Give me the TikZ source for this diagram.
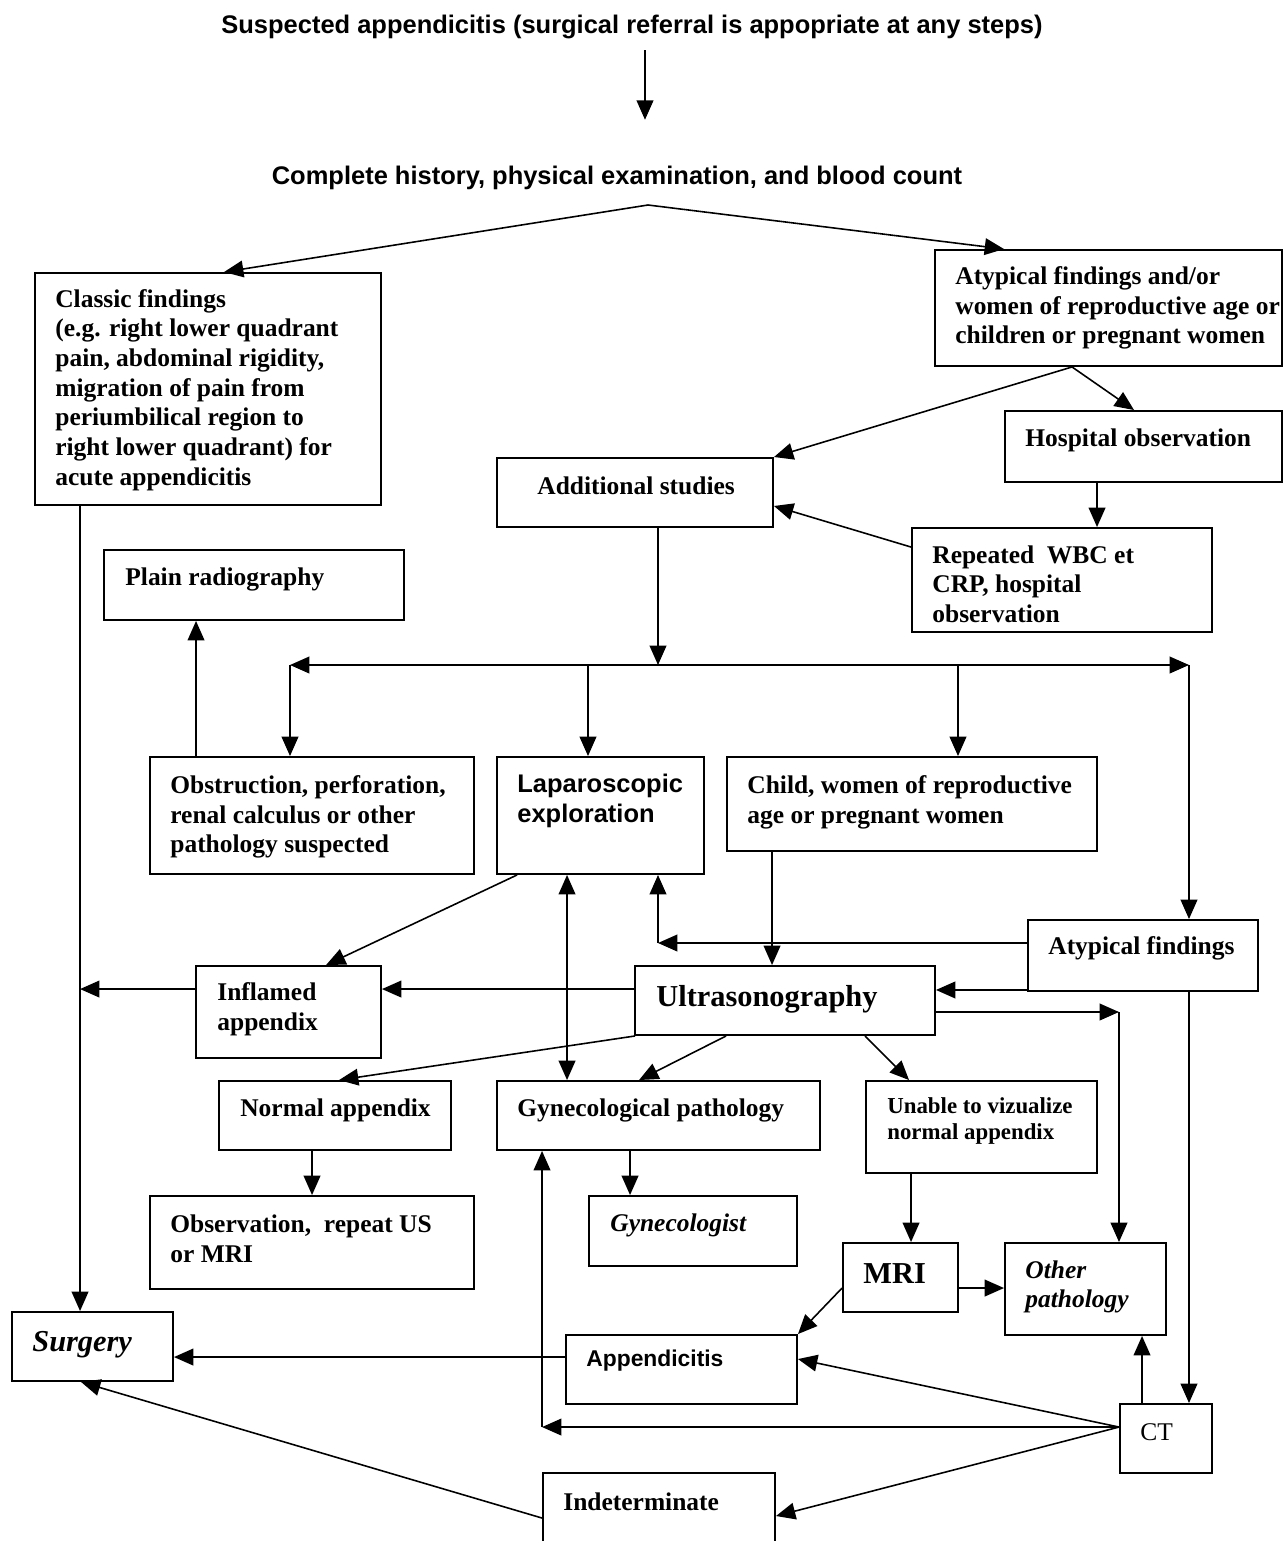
\documentclass[tikz,border=0pt]{standalone}
\usepackage{fontspec}
\setmainfont{Liberation Serif}
\setsansfont{Liberation Sans}
\usetikzlibrary{
    arrows.meta,
    positioning,
    fit,
    calc
}
\tikzset{
  box/.style   = {draw, line width=1.1pt, inner sep=0pt},
  lbl/.style   = {anchor=west, align=left, inner sep=0pt,
                  font=\fontsize{14.5}{16.9}\selectfont\bfseries},
  ilbl/.style  = {lbl, font=\fontsize{14.5}{16.9}\selectfont\bfseries\itshape},
  slbl/.style  = {lbl, font=\fontsize{14.5}{16.9}\selectfont\sffamily\bfseries},
  blbl/.style  = {lbl, font=\fontsize{17.3}{20}\selectfont\bfseries},
  arr/.style   = {-{Triangle[length=11pt,width=9.5pt]}, line width=0.9pt},
  darr/.style  = {{Triangle[length=11pt,width=9.5pt]}-{Triangle[length=11pt,width=9.5pt]},
                  line width=0.9pt}
}

\begin{document}
\begin{tikzpicture}[x=0.02cm, y=-0.02cm]
    \useasboundingbox (0,0) rectangle (1284,1541);
    \clip (0,0) rectangle (1284,1541);

    % header lines
    \node[slbl, anchor=center] (susp) at (632,27)
        {Suspected appendicitis (surgical referral is appopriate at any steps)};
    \node[slbl, anchor=center] (hist) at (617,178)
        {Complete history, physical examination, and blood count};
    \coordinate (split) at (648,205);

    % top boxes
    \node[box, fit={(35,273) (381,505)}] (classic) {};
    \node[lbl] (classic-t) at (55,390) {Classic findings\\(e.g. right lower quadrant\\pain, abdominal rigidity,\\migration of pain from\\periumbilical region to\\right lower quadrant) for\\acute appendicitis};
    \node[box, fit={(935,250) (1282,366)}] (atyp) {};
    \node[lbl] (atyp-t) at (955,308) {Atypical findings and/or\\women of reproductive age or\\children or pregnant women};
    \node[box, fit={(1005,411) (1282,482)}] (hosp) {};
    \node[lbl] (hosp-t) at (1025,440) {Hospital observation};
    \node[box, fit={(497,458) (773,527)}] (addst) {};
    \node[lbl] (addst-t) at (537,486) {Additional studies};
    \node[box, fit={(912,528) (1212,632)}] (repwbc) {};
    \node[lbl] (repwbc-t) at (932,584) {Repeated\ \ WBC et\\CRP, hospital\\observation};
    \node[box, fit={(104,550) (404,620)}] (plain) {};
    \node[lbl] (plain-t) at (125,579) {Plain radiography};

    % middle row
    \node[box, fit={(150,757) (474,874)}] (obstr) {};
    \node[lbl] (obstr-t) at (170,817) {Obstruction, perforation,\\renal calculus or other\\pathology suspected};
    \node[box, fit={(497,757) (704,874)}] (lapa) {};
    \node[slbl] (lapa-t) at (517,801) {Laparoscopic\\exploration};
    \node[box, fit={(727,757) (1097,851)}] (child) {};
    \node[lbl] (child-t) at (747,802) {Child, women of reproductive\\age or pregnant women};
    \node[box, fit={(1028,920) (1258,991)}] (atyp2) {};
    \node[lbl] (atyp2-t) at (1048,948) {Atypical findings};
    \node[box, fit={(635,966) (935,1035)}] (us) {};
    \node[blbl] (us-t) at (656,999) {Ultrasonography};
    \node[box, fit={(196,966) (381,1058)}] (infl) {};
    \node[lbl] (infl-t) at (217,1009) {Inflamed\\appendix};

    % lower boxes
    \node[box, fit={(219,1081) (451,1150)}] (normal) {};
    \node[lbl] (normal-t) at (240,1110) {Normal appendix};
    \node[box, fit={(497,1081) (820,1150)}] (gyn) {};
    \node[lbl] (gyn-t) at (517,1110) {Gynecological pathology};
    \node[box, fit={(866,1081) (1097,1173)}] (unable) {};
    \node[lbl, font=\fontsize{13}{15.3}\selectfont\bfseries] (unable-t) at (887,1121) {Unable to vizualize\\normal appendix};
    \node[box, fit={(150,1196) (474,1289)}] (obs) {};
    \node[lbl] (obs-t) at (170,1239) {Observation,\ \ repeat US\\or MRI};
    \node[box, fit={(589,1196) (797,1266)}] (gynist) {};
    \node[ilbl] (gynist-t) at (610,1225) {Gynecologist};
    \node[box, fit={(843,1243) (958,1312)}] (mri) {};
    \node[blbl] (mri-t) at (863,1274) {MRI};
    \node[box, fit={(1005,1243) (1166,1335)}] (other) {};
    \node[ilbl] (other-t) at (1025,1287) {Other\\pathology};
    \node[box, fit={(12,1312) (173,1381)}] (surgery) {};
    \node[blbl, font=\fontsize{17.3}{20}\selectfont\bfseries\itshape] (surgery-t) at (32,1345) {Surgery};
    \node[box, fit={(566,1335) (797,1404)}] (appx) {};
    \node[lbl, font=\fontsize{13}{15}\selectfont\sffamily\bfseries] (appx-t) at (586,1361) {Appendicitis};
    \node[box, fit={(1120,1404) (1212,1473)}] (ct) {};
    \node[lbl, font=\fontsize{14.5}{16.9}\selectfont] (ct-t) at (1140,1432) {CT};
    \node[box, fit={(543,1473) (775,1560)}] (indet) {};
    \node[lbl] (indet-t) at (563,1502) {Indeterminate};

    % connectors, top part
    \draw[arr] ($(susp.south)+(13,11)$) -- ($(hist.north)+(28,-46)$);
    \draw[arr] (split) -- ($(classic.north west)+(190,0)$);
    \draw[arr] (split) -- ($(atyp.north west)+(70,0)$);
    \draw[arr] ($(atyp.south west)+(138,0)$) -- (addst.north east);
    \draw[arr] ($(atyp.south west)+(138,0)$) -- ($(hosp.north west)+(130,0)$);
    \draw[arr] ($(hosp.south west)+(93,0)$) coordinate (h1) -- (h1 |- repwbc.north);
    \draw[arr] ($(repwbc.north west)+(0,20)$) -- ($(addst.south east)+(0,-22)$);

    % distribution line
    \coordinate (hub)  at (658,665);
    \coordinate (hubl) at (290,665);
    \coordinate (hubm) at (588,665);
    \coordinate (hubc) at (958,665);
    \coordinate (hubr) at (1189,665);
    \draw[arr] (addst.south -| hub) -- (hub);
    \draw[arr] (hub) -- (hubl);
    \draw[arr] (hub) -- (hubr);
    \draw[arr] (hubl) -- (hubl |- obstr.north);
    \draw[arr] (hubm) -- (hubm |- lapa.north);
    \draw[arr] (hubc) -- (hubc |- child.north);
    \draw[arr] (hubr) -- (hubr |- atyp2.north);
    \draw[arr] ($(obstr.north west)+(47,0)$) coordinate (o1) -- (o1 |- plain.south);

    % left trunk to surgery
    \draw[arr] ($(classic.south west)+(46,0)$) coordinate (trunk) -- (trunk |- surgery.north);
    \draw[arr] ($(infl.north west)+(0,24)$) coordinate (i1) -- (i1 -| trunk);
    \draw[arr] (us.west |- i1) -- (infl.east |- i1);
    \draw[arr] ($(lapa.south west)+(21,0)$) -- ($(infl.north west)+(131,0)$);
    \draw[darr] ($(lapa.south west)+(71,0)$) coordinate (l1) -- (l1 |- gyn.north);

    % around ultrasonography
    \coordinate (lapc) at (658,943);
    \draw[arr] (atyp2.west |- lapc) -- (lapc);
    \draw[arr] (lapc) -- (lapc |- lapa.south);
    \draw[arr] ($(child.south west)+(46,0)$) coordinate (c1) -- (c1 |- us.north);
    \draw[arr] ($(atyp2.south west)+(0,-2)$) coordinate (t1) -- (t1 -| us.east);
    \coordinate (usr) at (1119,1012);
    \draw[arr] (us.east |- usr) -- (usr);
    \draw[arr] (usr) -- (usr |- other.north);
    \draw[arr] (hubr |- atyp2.south) -- (hubr |- ct.north);
    \draw[arr] ($(us.south west)+(1,0)$) -- ($(normal.north west)+(121,0)$);
    \draw[arr] ($(us.south west)+(92,0)$) -- ($(gyn.north west)+(143,0)$);
    \draw[arr] ($(us.south west)+(231,0)$) -- ($(unable.north west)+(44,0)$);

    % bottom part
    \draw[arr] ($(normal.south west)+(94,0)$) coordinate (n1) -- (n1 |- obs.north);
    \draw[arr] ($(gyn.south west)+(134,0)$) coordinate (g1) -- (g1 |- gynist.north);
    \draw[arr] ($(unable.south west)+(46,0)$) coordinate (u1) -- (u1 |- mri.north);
    \draw[arr] ($(mri.north east)+(0,46)$) coordinate (m1) -- (m1 -| other.west);
    \draw[arr] ($(mri.north west)+(0,46)$) -- (appx.north east);
    \draw[arr] ($(appx.north west)+(0,23)$) coordinate (p1) -- (p1 -| surgery.east);
    \coordinate (ctw) at ($(ct.north west)+(0,24)$);
    \draw[arr] (ctw) -- ($(appx.north east)+(0,25)$);
    \draw[arr] (ctw) -- (ctw -| indet.west) coordinate (ctc);
    \draw[arr] (ctc) -- (ctc |- gyn.south);
    \draw[arr] (ctw) -- ($(indet.north east)+(0,44)$);
    \draw[arr] ($(ct.north west)+(23,0)$) coordinate (k1) -- (k1 |- other.south);
    \draw[arr] ($(indet.north west)+(0,46)$) -- ($(surgery.south west)+(70,0)$);
\end{tikzpicture}
\end{document}
